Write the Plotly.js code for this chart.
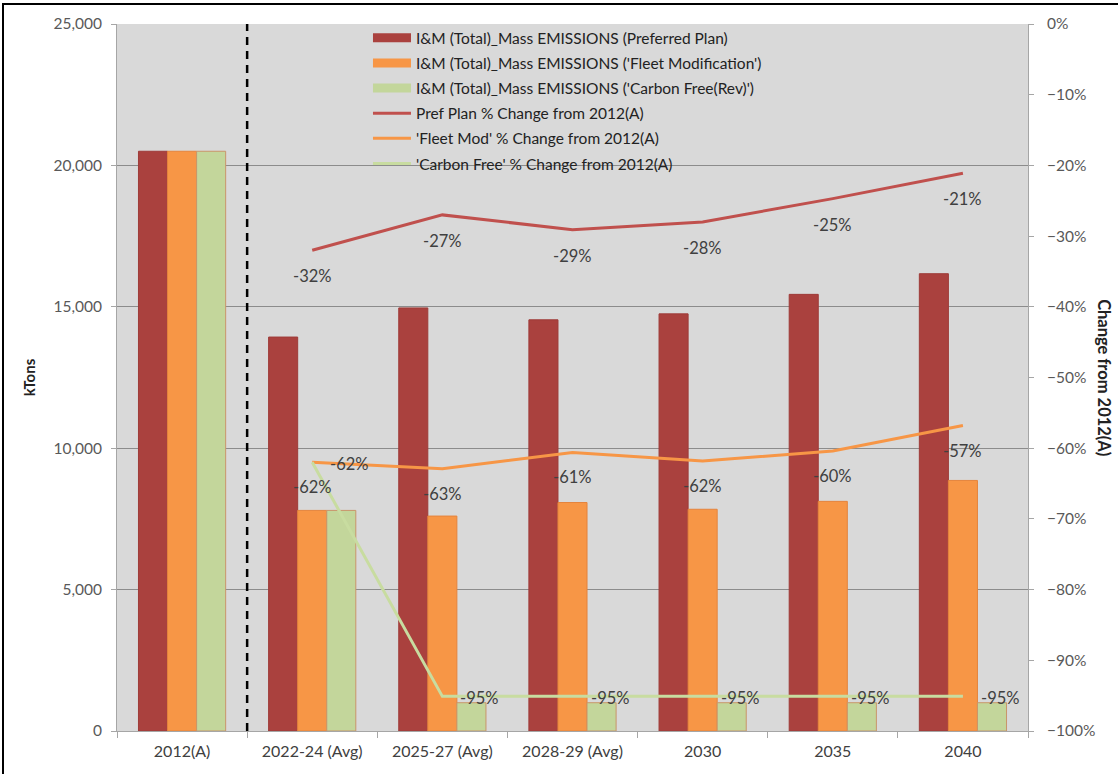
<!DOCTYPE html>
<html><head><meta charset="utf-8">
<script src="https://cdn.plot.ly/plotly-3.0.1.min.js"></script>
<style>
html,body{margin:0;padding:0;background:#fff;}
#chart{width:1118px;height:774px;}
#frame{position:absolute;left:2px;top:3px;width:1116px;height:771px;border-top:2px solid #000;border-left:2px solid #000;pointer-events:none;box-sizing:border-box;}
</style>
</head><body>
<div id="chart"></div><div id="frame"></div>
<script>
const categories = ['2012(A)','2022-24 (Avg)','2025-27 (Avg)','2028-29 (Avg)','2030','2035','2040'];
const prefPlan   = [20500,13930,14960,14540,14750,15440,16170];
const fleetMod   = [20500,7800,7600,8080,7840,8120,8860];
const carbonFree = [20500,7800,1000,1000,1000,1000,1000];
const lineCats   = ['2022-24 (Avg)','2025-27 (Avg)','2028-29 (Avg)','2030','2035','2040'];
const prefPct    = [-32.0,-27.0,-29.1,-28.0,-24.7,-21.1];
const fleetPct   = [-62.0,-62.9,-60.6,-61.8,-60.4,-56.8];
const carbonPct  = [-62.0,-95.1,-95.1,-95.1,-95.1,-95.1];
const barNames = ["I&M (Total)_Mass EMISSIONS (Preferred Plan)","I&M (Total)_Mass EMISSIONS ('Fleet Modification')","I&M (Total)_Mass EMISSIONS ('Carbon Free(Rev)')"];
const lineNames = ["Pref Plan % Change from 2012(A)","'Fleet Mod' % Change from 2012(A)","'Carbon Free' % Change from 2012(A)"];
const yTicks = [0,5000,10000,15000,20000,25000];

const FONT = 'Lato, "Open Sans", sans-serif';
const barColors = ['#AA413E','#F79646','#C3D69B'];
const barLines = ['#9E3B38','#E5843D','#C9956A'];
const lineColors = ['#C0504D','#F79646','#C8DCA0'];

const barData = [prefPlan, fleetMod, carbonFree];
const traces = [];
barData.forEach((vals,i)=>{
  traces.push({type:'bar', x:categories, y:vals, name:barNames[i], showlegend:false,
    marker:{color:barColors[i], line:{color:barLines[i], width:1}}, hoverinfo:'y'});
});
// legend swatches for the bar series (wide rectangles like the original)
barNames.forEach((n,i)=>{
  traces.push({type:'scatter', mode:'lines', x:[null], y:[null], name:n, legendgroup:'g'+i,
    line:{color:barColors[i], width:9}, hoverinfo:'skip'});
});
const lineData = [prefPct, fleetPct, carbonPct];
lineData.forEach((vals,i)=>{
  traces.push({type:'scatter', mode:'lines', x:lineCats, y:vals, yaxis:'y2', name:lineNames[i], legendgroup:'h'+i,
    line:{color:lineColors[i], width:3}});
});

const catIndex = c => categories.indexOf(c);
const annotations = [];
const fmt = v => Math.round(v) + '%';
const lblFont = {family:FONT,size:16.5,color:'#404040'};
prefPct.forEach((v,i)=>annotations.push({x:catIndex(lineCats[i]), y:v, xref:'x', yref:'y2', text:fmt(v), showarrow:false, yshift:-26, font:lblFont}));
fleetPct.forEach((v,i)=>annotations.push({x:catIndex(lineCats[i]), y:v, xref:'x', yref:'y2', text:fmt(v), showarrow:false, yshift:-25, font:lblFont}));
carbonPct.forEach((v,i)=>annotations.push({x:catIndex(lineCats[i]), y:v, xref:'x', yref:'y2', text:fmt(v), showarrow:false, xanchor:'left', xshift:16, yshift:-2, font:lblFont}));
annotations.push({xref:'paper', yref:'paper', x:1.097, y:0.5, text:'<b>Change from 2012(A)</b>', textangle:90, showarrow:false, font:{family:FONT,size:16.5,color:'#222'}});

const layout = {
  width:1118, height:774,
  margin:{l:117, r:90, t:24, b:43},
  paper_bgcolor:'#ffffff', plot_bgcolor:'#D9D9D9',
  font:{family:FONT, size:14, color:'#404040'},
  barmode:'group', bargap:0.33, bargroupgap:0,
  showlegend:true,
  legend:{x:0.2755, y:1.004, xanchor:'left', yanchor:'top', bgcolor:'rgba(0,0,0,0)', borderwidth:0,
    font:{family:FONT, size:15.5, color:'#222'}, tracegroupgap:2, itemwidth:38},
  xaxis:{type:'category', categoryorder:'array', categoryarray:categories, range:[-0.5,6.5], autorange:false,
    tickson:'boundaries', ticks:'outside', ticklen:6, tickcolor:'#A6A6A6',
    showline:true, linecolor:'#A6A6A6', linewidth:1, showgrid:false, ticklabelstandoff:6,
    tickfont:{family:FONT, size:16, color:'#404040'}, fixedrange:true},
  yaxis:{range:[0,25000], tickvals:yTicks, tickformat:',d', ticks:'outside', ticklen:5, tickcolor:'#A6A6A6',
    showline:true, linecolor:'#A6A6A6', linewidth:1, showgrid:true, gridcolor:'#8C8C8C', gridwidth:1, zeroline:false,
    ticklabelstandoff:6, tickfont:{family:FONT, size:15.5, color:'#595959'},
    title:{text:'<b>kTons</b>', font:{family:FONT, size:15, color:'#222'}, standoff:14}},
  yaxis2:{overlaying:'y', side:'right', range:[-100,0], dtick:10, ticksuffix:'%', ticks:'outside', ticklen:5, tickcolor:'#A6A6A6',
    showline:true, linecolor:'#A6A6A6', linewidth:1, showgrid:false, zeroline:false, ticklabelstandoff:10,
    tickfont:{family:FONT, size:15.5, color:'#595959'}},
  shapes:[{type:'line', xref:'x', yref:'paper', x0:0.5, x1:0.5, y0:0, y1:1, line:{color:'#000', width:2.5, dash:'8px,6px'}}],
  annotations:annotations
};
Plotly.newPlot('chart', traces, layout, {displayModeBar:false, staticPlot:true});
</script>
</body></html>
